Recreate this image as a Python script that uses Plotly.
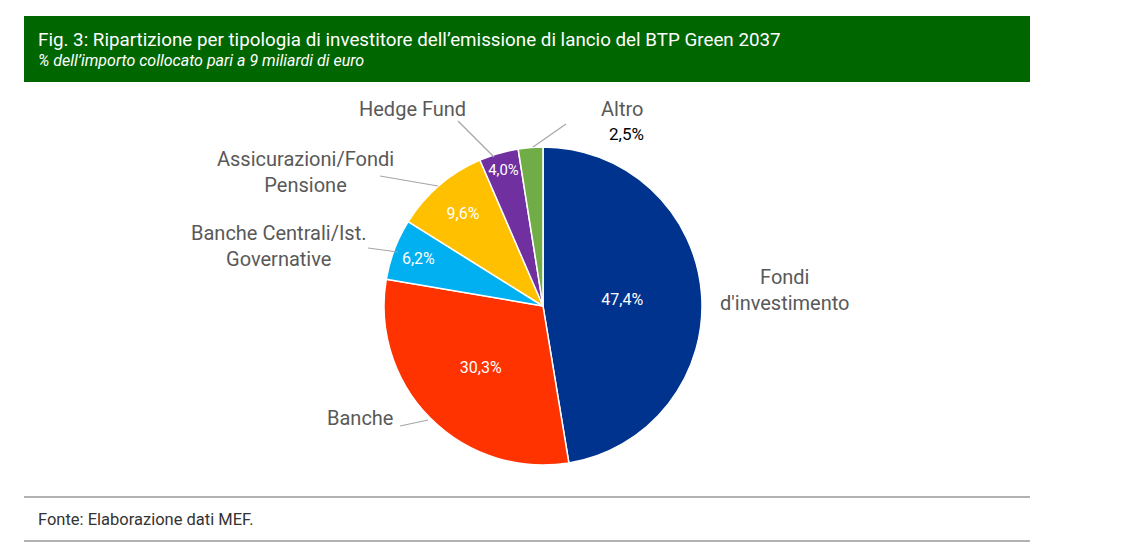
import plotly.graph_objects as go

labels = ["Fondi d'investimento", "Banche", "Banche Centrali/Ist. Governative",
          "Assicurazioni/Fondi Pensione", "Hedge Fund", "Altro"]
values = [47.4, 30.3, 6.2, 9.6, 4.0, 2.5]
colors = ["#00338D", "#FF3300", "#00B0F0", "#FFC000", "#7030A0", "#70AD47"]
inner_text = ["47,4%", "30,3%", "6,2%", "9,6%", "4,0%", ""]

W, H = 1126, 558
OFF = 8  # page body margin
def px(x): return (x - OFF) / W
def py(y): return 1 - (y - OFF) / H

fig = go.Figure(go.Pie(
    labels=labels, values=values, sort=False, direction="clockwise", rotation=0,
    marker=dict(colors=colors, line=dict(color="white", width=1.5)),
    text=inner_text, textinfo="text", textposition="inside",
    insidetextorientation="horizontal",
    insidetextfont=dict(color="white", size=16, family="Roboto"),
    domain=dict(x=[px(384), px(702)], y=[py(466), py(146)]),
    showlegend=False, hoverinfo="label+value"))

shapes = [
    dict(type="rect", xref="paper", yref="paper", x0=px(24), x1=px(1030), y0=py(82), y1=py(16),
         fillcolor="#006600", line=dict(width=0), layer="below"),
    dict(type="line", xref="paper", yref="paper", x0=px(24), x1=px(1030), y0=py(497), y1=py(497),
         line=dict(color="#999999", width=1.5)),
    dict(type="line", xref="paper", yref="paper", x0=px(24), x1=px(1030), y0=py(541), y1=py(541),
         line=dict(color="#999999", width=1.5)),
]
leaders = [((400, 426), (428, 420)), ((458, 121), (494, 157)), ((566, 124), (533, 147)),
           ((380, 176), (438, 186)), ((368, 248), (398, 252))]
for (a, b) in leaders:
    shapes.append(dict(type="line", xref="paper", yref="paper", x0=px(a[0]), y0=py(a[1]),
                       x1=px(b[0]), y1=py(b[1]), line=dict(color="#A6A6A6", width=1.2)))

gray = dict(color="#595959", size=20, family="Roboto")
ann = [
    dict(x=px(36), y=py(40), text="Fig. 3: Ripartizione per tipologia di investitore dell’emissione di lancio del BTP Green 2037",
         font=dict(color="white", size=18.8, family="Roboto"), xanchor="left"),
    dict(x=px(36), y=py(61), text="<i>% dell’importo collocato pari a 9 miliardi di euro</i>",
         font=dict(color="white", size=16, family="Roboto"), xanchor="left"),
    dict(x=px(36), y=py(519), text="Fonte: Elaborazione dati MEF.",
         font=dict(color="#333333", size=16.5, family="Roboto"), xanchor="left"),
    dict(x=px(785), y=py(290), text="Fondi<br>d'investimento", font=gray, align="center", xanchor="center"),
    dict(x=px(395), y=py(418), text="Banche", font=gray, xanchor="right"),
    dict(x=px(278), y=py(246), text="Banche Centrali/Ist.<br>Governative", font=gray, align="center", xanchor="center"),
    dict(x=px(305), y=py(172), text="Assicurazioni/Fondi<br>Pensione", font=gray, align="center", xanchor="center"),
    dict(x=px(412), y=py(109), text="Hedge Fund", font=gray, xanchor="center"),
    dict(x=px(622), y=py(109), text="Altro", font=gray, xanchor="center"),
    dict(x=px(626), y=py(134), text="2,5%", font=dict(color="black", size=17, family="Roboto"), xanchor="center"),
]
for a in ann:
    a.update(xref="paper", yref="paper", showarrow=False, yanchor="middle")

fig.update_layout(width=W, height=H, margin=dict(l=0, r=0, t=0, b=0),
                  paper_bgcolor="white", plot_bgcolor="white",
                  shapes=shapes, annotations=ann)
fig.write_html("out.html")
